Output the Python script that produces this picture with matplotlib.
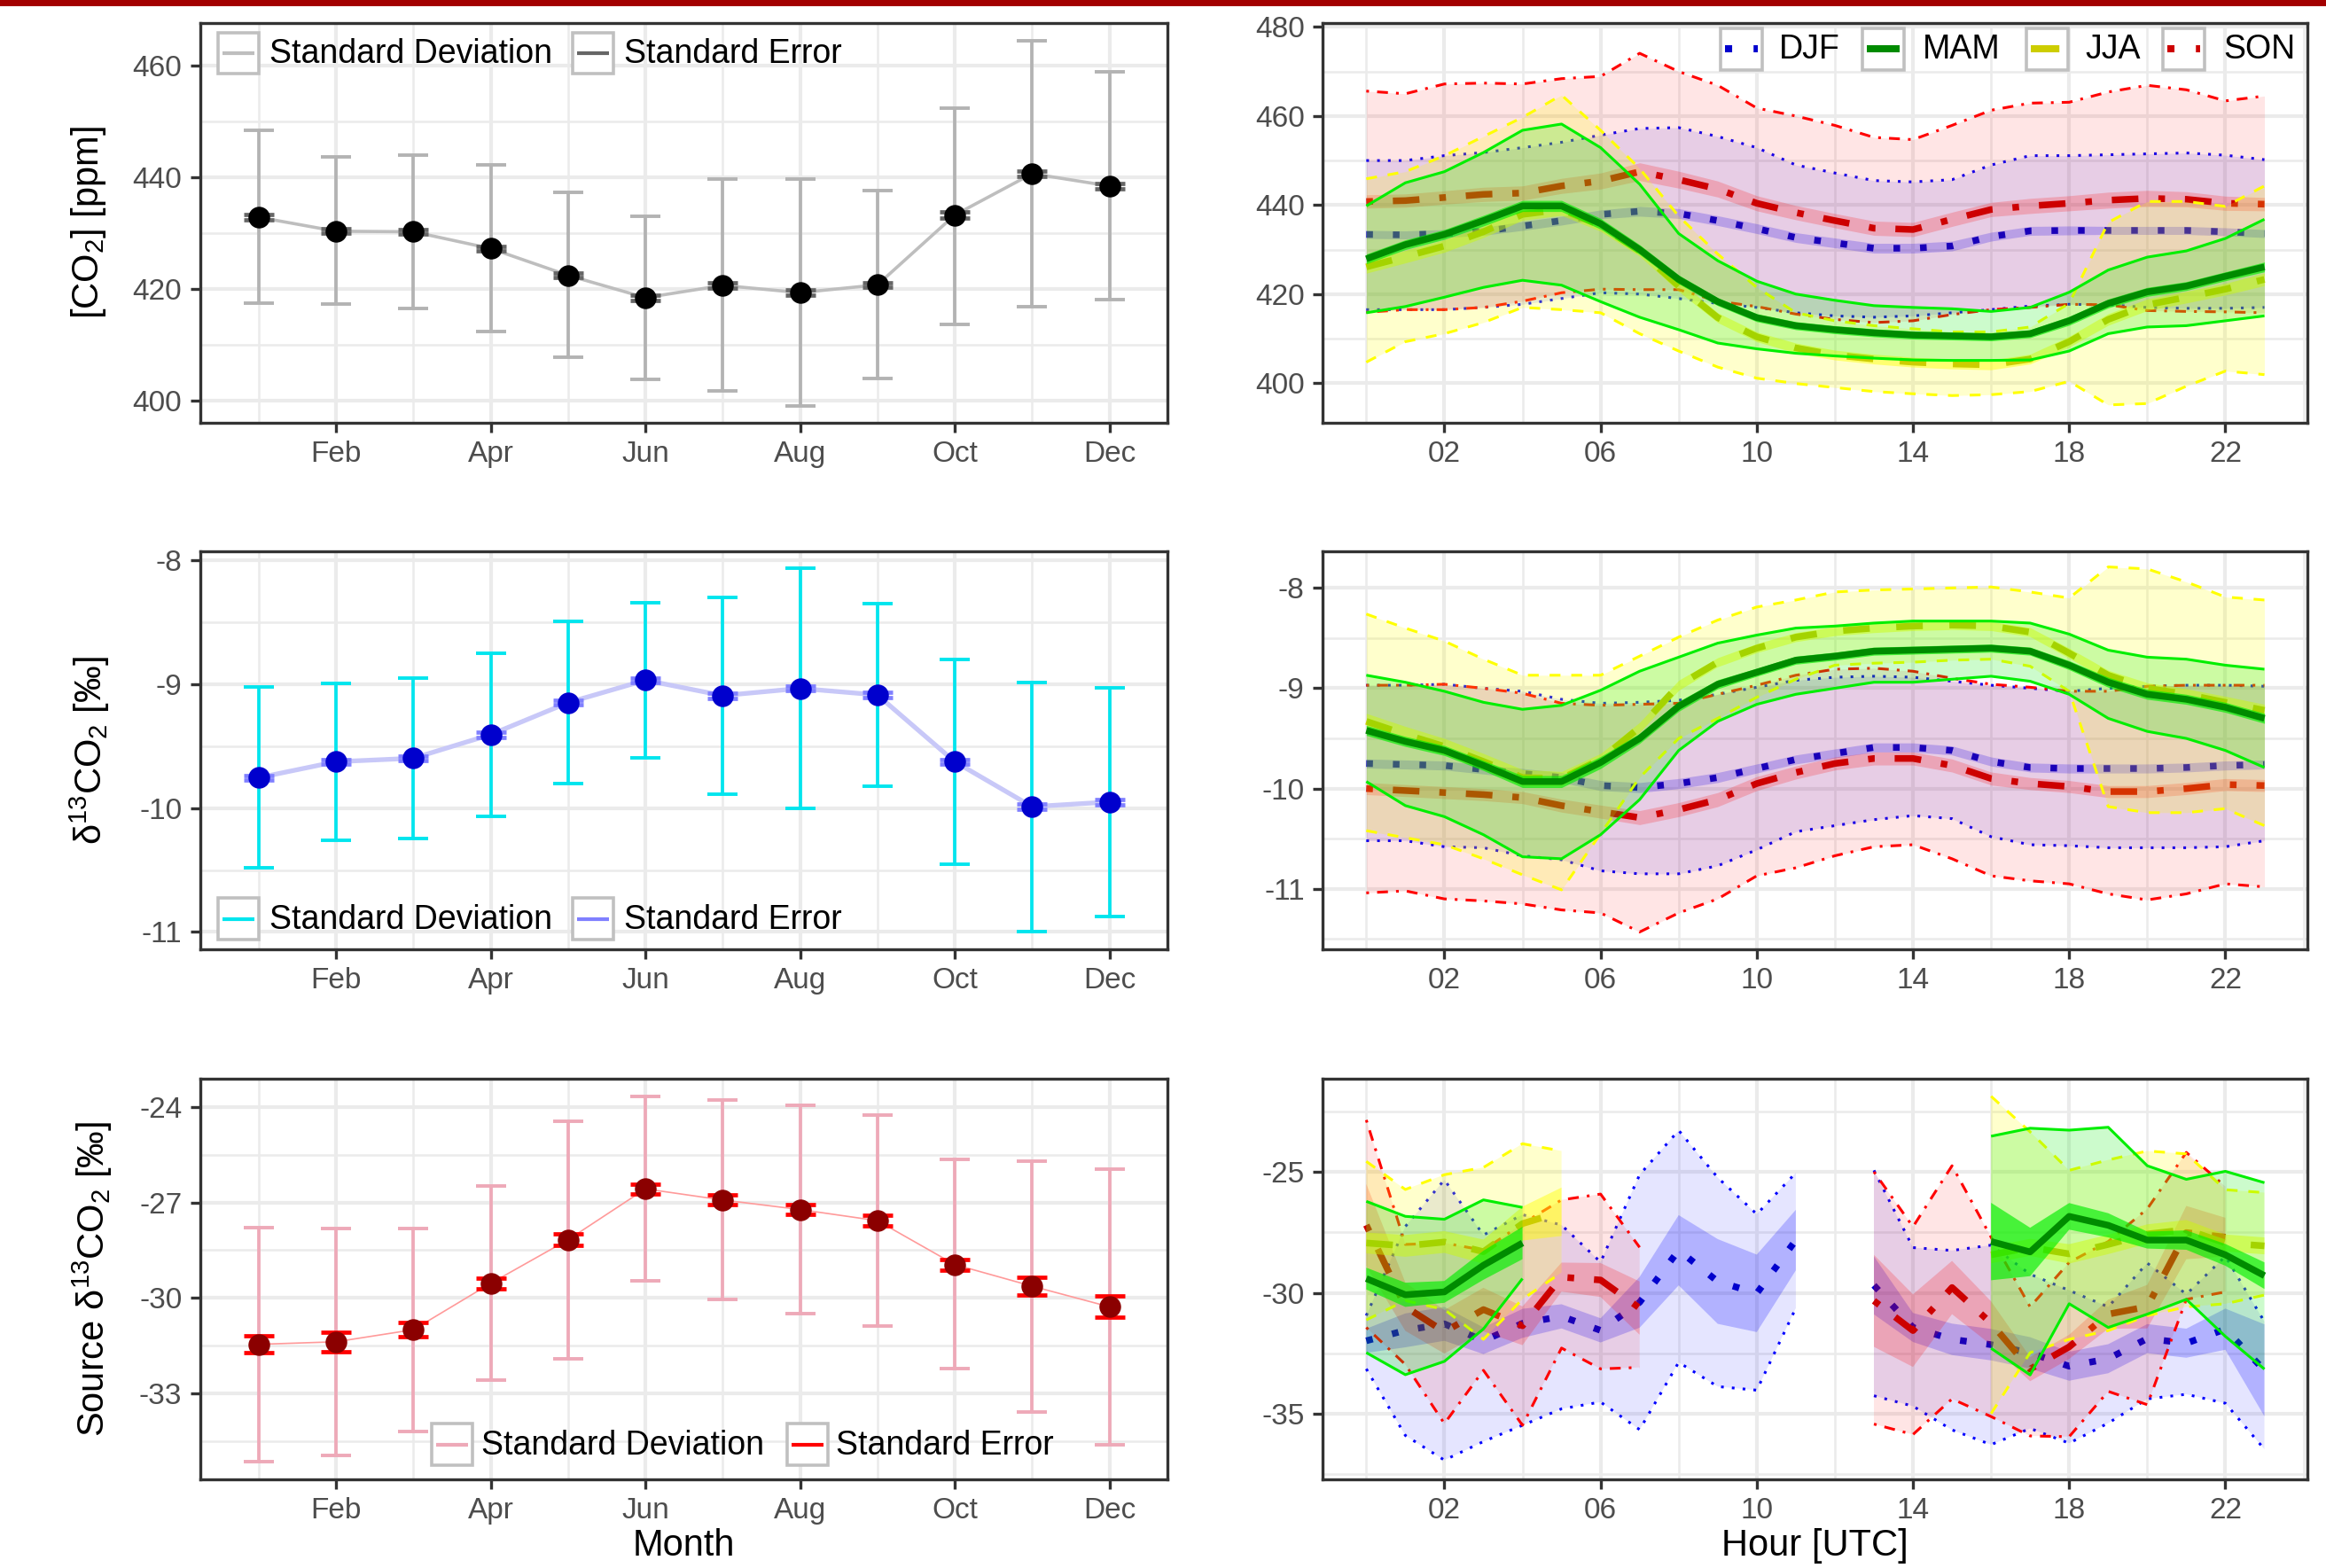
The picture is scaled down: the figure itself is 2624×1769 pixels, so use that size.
import numpy as np
import matplotlib
matplotlib.use("Agg")
import matplotlib.pyplot as plt
from matplotlib.patches import Rectangle
from matplotlib.lines import Line2D

plt.rcParams['font.family'] = ['Liberation Sans', 'DejaVu Sans']
plt.rcParams['mathtext.fontset'] = 'custom'
plt.rcParams['mathtext.rm'] = 'Liberation Sans'
plt.rcParams['mathtext.it'] = 'Liberation Sans:italic'
plt.rcParams['mathtext.bf'] = 'Liberation Sans:bold'
plt.rcParams['axes.unicode_minus'] = False

# ---------------- monthly data ----------------
months = [1, 2, 3, 4, 5, 6, 7, 8, 9, 10, 11, 12]
month_tick_pos = [2, 4, 6, 8, 10, 12]
month_tick_labels = ["Feb", "Apr", "Jun", "Aug", "Oct", "Dec"]

co2_month_mean = [432.9, 430.4, 430.3, 427.3, 422.5, 418.5, 420.7, 419.4, 420.8, 433.3, 440.7, 438.5]
co2_month_sd_hi = [448.4, 443.7, 444.0, 442.3, 437.3, 433.0, 439.8, 439.7, 437.6, 452.5, 464.5, 459.0]
co2_month_sd_lo = [417.5, 417.3, 416.6, 412.5, 407.8, 403.9, 401.8, 399.1, 404.0, 413.7, 416.9, 418.1]
co2_month_se = [0.45, 0.4, 0.4, 0.45, 0.45, 0.45, 0.45, 0.45, 0.45, 0.5, 0.5, 0.5]

d13_month_mean = [-9.754, -9.625, -9.597, -9.406, -9.148, -8.967, -9.091, -9.033, -9.086, -9.625, -9.988, -9.950]
d13_month_sd_hi = [-9.021, -8.990, -8.952, -8.747, -8.494, -8.341, -8.296, -8.064, -8.348, -8.797, -8.983, -9.029]
d13_month_sd_lo = [-10.484, -10.260, -10.246, -10.069, -9.804, -9.592, -9.890, -10.005, -9.821, -10.451, -11.0, -10.876]
d13_month_se = [0.02, 0.02, 0.02, 0.02, 0.02, 0.02, 0.02, 0.02, 0.02, 0.02, 0.02, 0.02]

src_month_mean = [-31.46, -31.38, -31.0, -29.54, -28.17, -26.57, -26.92, -27.22, -27.57, -28.95, -29.63, -30.28]
src_month_sd_hi = [-27.79, -27.82, -27.82, -26.49, -24.44, -23.66, -23.77, -23.93, -24.25, -25.65, -25.69, -25.96]
src_month_sd_lo = [-35.16, -34.95, -34.2, -32.58, -31.91, -29.46, -30.04, -30.48, -30.89, -32.23, -33.58, -34.62]
src_month_se = [0.27, 0.31, 0.22, 0.17, 0.18, 0.16, 0.15, 0.15, 0.17, 0.17, 0.28, 0.33]

# ---------------- diurnal data ----------------
hours = list(range(24))
hour_tick_pos = [2, 6, 10, 14, 18, 22]
hour_tick_labels = ["02", "06", "10", "14", "18", "22"]
seasons = ["DJF", "MAM", "JJA", "SON"]

# CO2 [ppm]
djf_co2_mean = [433.4, 433.3, 433.6, 434.1, 435.3, 436.5, 437.9, 438.6, 438.1, 436.5, 434.7, 432.7, 431.5, 430.3, 430.3, 430.8, 432.9, 434.2, 434.3, 434.3, 434.3, 434.3, 434.0, 433.6]
djf_co2_hi = [450.0, 450.0, 451.1, 451.8, 452.9, 454.1, 455.7, 457.2, 457.4, 455.4, 452.9, 449.0, 447.2, 445.5, 445.2, 445.7, 449.0, 451.1, 451.1, 451.3, 451.5, 451.7, 451.2, 450.2]
djf_co2_lo = [416.5, 416.5, 416.5, 417.0, 417.7, 419.0, 420.3, 420.0, 419.0, 417.9, 417.0, 415.8, 415.1, 414.8, 415.1, 415.8, 416.5, 417.3, 417.7, 417.6, 417.0, 416.8, 416.8, 417.0]
djf_co2_se = [0.9, 0.9, 0.9, 0.9, 1.0, 1.0, 1.0, 1.1, 1.1, 1.1, 1.1, 1.1, 1.1, 1.1, 1.1, 1.1, 1.0, 1.0, 1.0, 0.9, 0.9, 0.9, 0.9, 0.9]

son_co2_mean = [440.8, 441.0, 441.7, 442.4, 442.7, 444.3, 445.4, 447.5, 445.7, 443.6, 440.4, 438.3, 436.5, 434.8, 434.5, 436.8, 439.0, 439.8, 440.4, 441.1, 441.5, 441.3, 440.4, 440.2]
son_co2_hi = [465.6, 465.0, 467.2, 467.4, 467.2, 468.4, 468.9, 474.1, 470.0, 466.9, 461.8, 460.0, 457.9, 455.2, 454.7, 457.9, 461.3, 462.9, 463.1, 465.4, 466.9, 465.9, 463.4, 464.5]
son_co2_lo = [415.9, 416.5, 416.5, 417.0, 418.4, 420.3, 421.1, 421.0, 421.0, 418.4, 417.2, 415.5, 414.3, 413.6, 414.0, 415.4, 416.5, 417.0, 417.7, 417.6, 416.3, 416.1, 416.0, 415.8]
son_co2_se = [1.5, 1.5, 1.5, 1.6, 1.6, 1.7, 1.8, 2.0, 1.9, 1.8, 1.7, 1.6, 1.6, 1.6, 1.6, 1.6, 1.6, 1.7, 1.7, 1.8, 1.8, 1.7, 1.6, 1.5]

mam_co2_mean = [427.9, 431.1, 433.4, 436.5, 439.8, 439.8, 435.8, 430.0, 423.3, 418.3, 414.7, 412.9, 412.0, 411.3, 410.8, 410.6, 410.4, 411.1, 414.0, 417.9, 420.5, 421.8, 424.0, 426.1]
mam_co2_hi = [439.8, 445.0, 447.5, 451.8, 456.8, 458.2, 452.9, 444.7, 433.6, 427.5, 422.9, 420.0, 418.6, 417.4, 417.0, 416.7, 416.1, 417.0, 420.4, 425.4, 428.3, 429.7, 432.5, 436.8]
mam_co2_lo = [415.8, 417.2, 419.3, 421.5, 423.1, 422.0, 418.3, 414.8, 412.0, 409.0, 407.7, 406.7, 406.1, 405.6, 405.2, 405.1, 405.1, 405.2, 407.2, 411.1, 412.6, 412.9, 414.0, 415.1]
mam_co2_se = [1.1, 1.1, 1.1, 1.2, 1.25, 1.25, 1.2, 1.1, 1.0, 0.9, 0.9, 0.9, 0.9, 0.9, 0.9, 0.9, 0.9, 0.9, 1.0, 1.0, 1.0, 1.0, 1.0, 1.1]

jja_co2_mean = [426.1, 428.4, 430.8, 434.0, 437.9, 439.0, 435.4, 429.7, 421.8, 414.7, 410.4, 407.9, 406.3, 405.4, 404.7, 404.3, 404.1, 405.4, 409.3, 414.3, 417.6, 419.3, 421.1, 423.3]
jja_co2_hi = [445.9, 447.5, 451.1, 455.4, 459.7, 464.7, 456.8, 448.2, 437.5, 429.0, 421.5, 415.8, 414.0, 412.9, 412.2, 411.5, 411.5, 412.6, 417.9, 436.1, 440.8, 440.8, 439.7, 444.3]
jja_co2_lo = [404.7, 409.3, 411.1, 413.6, 417.0, 416.5, 415.8, 411.1, 407.2, 403.6, 401.1, 399.9, 399.0, 398.1, 397.6, 397.2, 397.4, 398.1, 400.4, 395.1, 395.4, 399.3, 402.7, 401.9]
jja_co2_se = [1.4, 1.4, 1.4, 1.3, 1.3, 1.3, 1.3, 1.2, 1.2, 1.1, 1.1, 1.1, 1.1, 1.1, 1.1, 1.1, 1.1, 1.1, 1.2, 1.3, 1.3, 1.3, 1.3, 1.4]

# d13C-CO2 [permil]
djf_d13_mean = [-9.75, -9.76, -9.77, -9.81, -9.85, -9.89, -9.97, -9.99, -9.95, -9.89, -9.80, -9.71, -9.65, -9.59, -9.59, -9.62, -9.73, -9.79, -9.80, -9.80, -9.80, -9.79, -9.77, -9.76]
djf_d13_hi = [-8.97, -8.97, -8.96, -9.00, -9.03, -9.11, -9.15, -9.14, -9.12, -9.06, -8.99, -8.92, -8.89, -8.88, -8.89, -8.93, -8.97, -9.00, -9.03, -9.00, -8.98, -8.97, -8.97, -8.98]
djf_d13_lo = [-10.52, -10.52, -10.58, -10.59, -10.67, -10.71, -10.82, -10.85, -10.85, -10.77, -10.61, -10.43, -10.37, -10.31, -10.27, -10.30, -10.48, -10.56, -10.57, -10.59, -10.59, -10.59, -10.58, -10.52]
djf_d13_se = [0.045, 0.045, 0.045, 0.045, 0.05, 0.05, 0.05, 0.05, 0.05, 0.05, 0.045, 0.045, 0.045, 0.045, 0.045, 0.045, 0.045, 0.045, 0.045, 0.045, 0.045, 0.045, 0.045, 0.045]

son_d13_mean = [-10.00, -10.02, -10.04, -10.06, -10.09, -10.17, -10.23, -10.29, -10.21, -10.11, -9.95, -9.84, -9.75, -9.70, -9.70, -9.77, -9.90, -9.95, -9.98, -10.03, -10.03, -10.00, -9.96, -9.97]
son_d13_hi = [-8.97, -8.97, -8.96, -9.00, -9.05, -9.15, -9.17, -9.16, -9.15, -9.06, -8.97, -8.87, -8.81, -8.80, -8.83, -8.90, -8.96, -8.99, -9.03, -9.03, -8.98, -8.97, -8.97, -8.97]
son_d13_lo = [-11.04, -11.02, -11.10, -11.12, -11.15, -11.21, -11.24, -11.43, -11.24, -11.10, -10.87, -10.79, -10.67, -10.58, -10.56, -10.70, -10.87, -10.92, -10.95, -11.05, -11.11, -11.05, -10.95, -10.98]
son_d13_se = [0.06, 0.06, 0.06, 0.06, 0.06, 0.065, 0.065, 0.07, 0.07, 0.07, 0.07, 0.065, 0.065, 0.065, 0.065, 0.065, 0.065, 0.06, 0.06, 0.06, 0.06, 0.06, 0.06, 0.06]

mam_d13_mean = [-9.42, -9.53, -9.62, -9.77, -9.93, -9.93, -9.74, -9.50, -9.18, -8.96, -8.84, -8.72, -8.68, -8.63, -8.62, -8.61, -8.60, -8.63, -8.77, -8.94, -9.06, -9.11, -9.19, -9.30]
mam_d13_hi = [-8.87, -8.94, -9.03, -9.14, -9.21, -9.17, -9.02, -8.83, -8.69, -8.55, -8.47, -8.40, -8.38, -8.35, -8.33, -8.33, -8.33, -8.35, -8.46, -8.62, -8.69, -8.71, -8.77, -8.81]
mam_d13_lo = [-9.93, -10.17, -10.28, -10.46, -10.68, -10.70, -10.46, -10.11, -9.62, -9.33, -9.16, -9.06, -9.00, -8.94, -8.94, -8.91, -8.88, -8.93, -9.06, -9.30, -9.43, -9.50, -9.62, -9.79]
mam_d13_se = [0.05, 0.05, 0.05, 0.05, 0.06, 0.06, 0.06, 0.05, 0.05, 0.045, 0.04, 0.04, 0.04, 0.04, 0.04, 0.04, 0.04, 0.04, 0.045, 0.05, 0.05, 0.05, 0.05, 0.05]

jja_d13_mean = [-9.33, -9.46, -9.58, -9.73, -9.89, -9.90, -9.71, -9.39, -8.97, -8.74, -8.60, -8.49, -8.43, -8.40, -8.38, -8.37, -8.38, -8.44, -8.65, -8.87, -9.00, -9.06, -9.14, -9.22]
jja_d13_hi = [-8.26, -8.40, -8.53, -8.71, -8.87, -8.87, -8.87, -8.68, -8.49, -8.32, -8.19, -8.12, -8.04, -8.02, -8.01, -8.00, -7.99, -8.04, -8.10, -7.79, -7.81, -7.94, -8.09, -8.12]
jja_d13_lo = [-10.42, -10.49, -10.56, -10.70, -10.86, -11.01, -10.45, -9.89, -9.50, -9.30, -9.09, -8.91, -8.77, -8.75, -8.74, -8.72, -8.71, -8.78, -9.03, -10.18, -10.24, -10.24, -10.20, -10.37]
jja_d13_se = [0.08, 0.08, 0.08, 0.08, 0.08, 0.07, 0.06, 0.05, 0.05, 0.045, 0.045, 0.045, 0.045, 0.045, 0.045, 0.045, 0.045, 0.045, 0.05, 0.05, 0.055, 0.055, 0.06, 0.06]

# Source d13C [permil] (nan = no data)
nan = np.nan
djf_src_mean = [-31.98, -31.55, -31.28, -31.98, -31.26, -30.97, -31.55, -30.39, -28.24, -29.53, -30.02, -27.82, nan, -29.69, -31.43, -31.92, -32.14, -32.48, -33.03, -32.72, -31.89, -32.08, -31.50, -33.20]
djf_src_hi = [-30.94, -27.26, -25.33, -27.61, -26.77, -27.20, -28.73, -25.12, -23.29, -25.24, -26.75, -25.04, nan, -24.94, -28.13, -28.25, -28.03, -29.23, -29.90, -30.58, -28.77, -30.06, -28.49, -31.19]
djf_src_lo = [-33.14, -35.89, -36.91, -36.14, -35.47, -34.79, -34.51, -35.65, -32.87, -33.87, -34.02, -30.63, nan, -34.25, -34.68, -35.66, -36.27, -35.60, -36.21, -35.38, -34.38, -34.19, -34.56, -36.46]
djf_src_se = [0.5, 0.7, 0.7, 0.55, 0.6, 0.5, 0.5, 1.05, 1.45, 1.75, 1.6, 1.25, nan, 1.2, 0.6, 0.65, 0.65, 0.65, 0.6, 0.6, 0.6, 0.6, 0.85, 1.9]

son_src_mean = [-27.20, -30.57, -31.61, -30.69, -31.36, -29.35, -29.47, -30.63, nan, nan, nan, nan, nan, -30.33, -31.56, -29.78, -31.25, -33.15, -32.23, -30.88, -30.57, -27.51, -27.70, nan]
son_src_hi = [-22.86, -28.00, -27.94, -28.24, -27.14, -26.16, -25.92, -28.12, nan, nan, nan, nan, nan, -25.00, -27.27, -24.75, -27.70, -30.58, -28.74, -27.88, -26.53, -24.20, -25.61, nan]
son_src_lo = [-31.43, -32.96, -35.40, -33.20, -35.47, -32.28, -33.14, -33.08, nan, nan, nan, nan, nan, -35.42, -35.85, -34.38, -35.11, -35.91, -35.94, -34.07, -34.62, -30.27, -29.96, nan]
son_src_se = [1.7, 1.0, 0.9, 0.9, 0.8, 0.6, 0.7, 1.1, nan, nan, nan, nan, nan, 1.9, 1.5, 1.1, 0.9, 0.5, 0.5, 0.6, 0.9, 1.1, 0.8, nan]

mam_src_mean = [-29.41, -30.08, -29.96, -28.86, -27.94, nan, nan, nan, nan, nan, nan, nan, nan, nan, nan, nan, -27.88, -28.31, -26.84, -27.21, -27.82, -27.82, -28.43, -29.29]
mam_src_hi = [-26.22, -26.84, -26.96, -26.16, -26.47, nan, nan, nan, nan, nan, nan, nan, nan, nan, nan, nan, -23.53, -23.20, -23.28, -23.16, -24.75, -25.31, -24.98, -25.45]
mam_src_lo = [-32.47, -33.38, -32.83, -31.49, -29.41, nan, nan, nan, nan, nan, nan, nan, nan, nan, nan, nan, -32.29, -33.39, -30.45, -31.43, -30.88, -30.27, -31.80, -33.15]
mam_src_se = [0.45, 0.5, 0.45, 0.6, 0.67, nan, nan, nan, nan, nan, nan, nan, nan, nan, nan, nan, 1.6, 1.0, 0.55, 0.5, 0.35, 0.4, 0.45, 0.55]

jja_src_mean = [-27.94, -28.06, -27.90, -28.30, -27.14, -26.65, nan, nan, nan, nan, nan, nan, nan, nan, nan, nan, -28.43, -28.12, -28.39, -28.00, -27.57, -27.39, -27.94, -28.06]
jja_src_hi = [-24.57, -25.73, -25.12, -24.82, -23.84, -24.14, nan, nan, nan, nan, nan, nan, nan, nan, nan, nan, -21.88, -23.35, -24.94, -24.51, -24.14, -24.26, -25.74, -25.86]
jja_src_lo = [-31.12, -30.32, -30.69, -31.92, -30.26, -29.16, nan, nan, nan, nan, nan, nan, nan, nan, nan, nan, -34.99, -32.47, -31.92, -31.56, -30.94, -30.58, -30.45, -30.09]
jja_src_se = [0.43, 0.45, 0.45, 0.5, 0.7, 1.0, nan, nan, nan, nan, nan, nan, nan, nan, nan, nan, 0.35, 0.35, 0.4, 0.4, 0.4, 0.4, 0.35, 0.35]

# ---------------- figure ----------------
W, H, DPI = 2624, 1769, 200
fig = plt.figure(figsize=(W / DPI, H / DPI), dpi=DPI)
fig.patch.set_facecolor('white')


def fx(x):
    return x / W


def fy(y):
    return 1 - y / H


def add_ax(l, t, r, b):
    return fig.add_axes([l / W, 1 - b / H, (r - l) / W, (b - t) / H])


def style(ax, xlim, ylim, xmaj, xlab, xmin, ymaj, ymin):
    ax.set_xlim(xlim)
    ax.set_ylim(ylim)
    ax.set_xticks(xmaj)
    ax.set_xticklabels(xlab)
    ax.set_xticks(xmin, minor=True)
    ax.set_yticks(ymaj)
    ax.set_yticklabels([("%g" % v) for v in ymaj])
    ax.set_yticks(ymin, minor=True)
    ax.grid(which='major', color='#ebebeb', lw=1.5)
    ax.grid(which='minor', color='#ebebeb', lw=0.9)
    ax.set_axisbelow(True)
    ax.tick_params(which='major', length=4, width=1.2, color='#333333',
                   labelcolor='#4d4d4d', labelsize=12, pad=3.3)
    ax.tick_params(which='minor', length=0)
    for s in ax.spines.values():
        s.set_color('#333333')
        s.set_linewidth(1.2)
        s.set_zorder(10)


LX0, LX1 = 225.6, 1317
RX0, RX1 = 1492, 2603
ROWS = [(25.8, 477), (621.7, 1070.7), (1217.4, 1668.9)]
mxlim = (0.24, 12.75)
hxlim = (-1.12, 24.1)
month_minor = [1, 3, 5, 7, 9, 11]
hour_minor = [0, 4, 8, 12, 16, 20, 24]


def monthly(ax, mean, hi, lo, se, line_col, line_w, sd_col, se_col, pt_col):
    mean = np.asarray(mean); hi = np.asarray(hi); lo = np.asarray(lo); se = np.asarray(se)
    ax.plot(months, mean, color=line_col, lw=line_w, zorder=2, solid_capstyle='butt')
    ax.errorbar(months, mean, yerr=[mean - lo, hi - mean], fmt='none', ecolor=sd_col,
                elinewidth=1.35, capsize=6.0, capthick=1.4, zorder=3)
    ax.errorbar(months, mean, yerr=se, fmt='none', ecolor=se_col,
                elinewidth=1.6, capsize=6.0, capthick=1.7, zorder=4)
    ax.plot(months, mean, 'o', color=pt_col, ms=7.8, mec=pt_col, zorder=5)


# Top-left
ax1 = add_ax(LX0, ROWS[0][0], LX1, ROWS[0][1])
style(ax1, mxlim, (396.1, 467.7), month_tick_pos, month_tick_labels, month_minor,
      [400, 420, 440, 460], [410, 430, 450])
monthly(ax1, co2_month_mean, co2_month_sd_hi, co2_month_sd_lo, co2_month_se,
        '#bebebe', 1.3, '#b3b3b3', '#666666', 'black')

# Middle-left
ax2 = add_ax(LX0, ROWS[1][0], LX1, ROWS[1][1])
style(ax2, mxlim, (-11.138, -7.924), month_tick_pos, month_tick_labels, month_minor,
      [-11, -10, -9, -8], [-10.5, -9.5, -8.5])
monthly(ax2, d13_month_mean, d13_month_sd_hi, d13_month_sd_lo, d13_month_se,
        '#c8c8f8', 1.9, '#00e5ee', '#8080ff', '#0000cd')

# Bottom-left
ax3 = add_ax(LX0, ROWS[2][0], LX1, ROWS[2][1])
style(ax3, mxlim, (-35.705, -23.116), month_tick_pos, month_tick_labels, month_minor,
      [-33, -30, -27, -24], [-34.5, -31.5, -28.5, -25.5])
monthly(ax3, src_month_mean, src_month_sd_hi, src_month_sd_lo, src_month_se,
        '#ff9a9a', 0.6, '#eea9b8', '#ff0000', '#8b0000')

# Diurnal panels
STY = {
    'DJF': dict(mean='#0000cd', sd='#0000ff', ls=(0, (1, 3)), fa=0.10, sa=0.22),
    'SON': dict(mean='#cd0000', sd='#ff0000', ls=(0, (1, 3, 4, 3)), fa=0.10, sa=0.20),
    'JJA': dict(mean='#cdcd00', sd='#ffff00', ls=(0, (4, 4)), fa=0.20, sa=0.45),
    'MAM': dict(mean='#008b00', sd='#00ee00', ls='-', fa=0.20, sa=0.65),
}


def season(ax, name, mean, hi, lo, se, z):
    s = STY[name]
    mean = np.asarray(mean, float); hi = np.asarray(hi, float)
    lo = np.asarray(lo, float); se = np.asarray(se, float)
    h = np.asarray(hours, float)
    ax.fill_between(h, lo, hi, color=s['sd'], alpha=s['fa'], lw=0, zorder=z)
    ax.fill_between(h, mean - se, mean + se, color=s['sd'], alpha=s['sa'], lw=0, zorder=z + 0.1)
    for arr in (hi, lo):
        ax.plot(h, arr, color=s['sd'], lw=1.1, ls=s['ls'], zorder=z + 0.2,
                solid_capstyle='butt', dash_capstyle='butt')
    ax.plot(h, mean, color=s['mean'], lw=2.7, ls=s['ls'], zorder=z + 0.3,
            solid_capstyle='butt', dash_capstyle='butt')


ax4 = add_ax(RX0, ROWS[0][0], RX1, ROWS[0][1])
style(ax4, hxlim, (391.08, 480.93), hour_tick_pos, hour_tick_labels, hour_minor,
      [400, 420, 440, 460, 480], [410, 430, 450, 470])
season(ax4, 'DJF', djf_co2_mean, djf_co2_hi, djf_co2_lo, djf_co2_se, 1)
season(ax4, 'SON', son_co2_mean, son_co2_hi, son_co2_lo, son_co2_se, 2)
season(ax4, 'JJA', jja_co2_mean, jja_co2_hi, jja_co2_lo, jja_co2_se, 3)
season(ax4, 'MAM', mam_co2_mean, mam_co2_hi, mam_co2_lo, mam_co2_se, 4)

ax5 = add_ax(RX0, ROWS[1][0], RX1, ROWS[1][1])
style(ax5, hxlim, (-11.60, -7.632), hour_tick_pos, hour_tick_labels, hour_minor,
      [-11, -10, -9, -8], [-11.5, -10.5, -9.5, -8.5])
season(ax5, 'DJF', djf_d13_mean, djf_d13_hi, djf_d13_lo, djf_d13_se, 1)
season(ax5, 'SON', son_d13_mean, son_d13_hi, son_d13_lo, son_d13_se, 2)
season(ax5, 'JJA', jja_d13_mean, jja_d13_hi, jja_d13_lo, jja_d13_se, 3)
season(ax5, 'MAM', mam_d13_mean, mam_d13_hi, mam_d13_lo, mam_d13_se, 4)

ax6 = add_ax(RX0, ROWS[2][0], RX1, ROWS[2][1])
style(ax6, hxlim, (-37.7, -21.17), hour_tick_pos, hour_tick_labels, hour_minor,
      [-35, -30, -25], [-37.5, -32.5, -27.5, -22.5])
season(ax6, 'DJF', djf_src_mean, djf_src_hi, djf_src_lo, djf_src_se, 1)
season(ax6, 'SON', son_src_mean, son_src_hi, son_src_lo, son_src_se, 2)
season(ax6, 'JJA', jja_src_mean, jja_src_hi, jja_src_lo, jja_src_se, 3)
season(ax6, 'MAM', mam_src_mean, mam_src_hi, mam_src_lo, mam_src_se, 4)

# ---------------- axis titles ----------------
fig.text(fx(100), fy(251.4), "[CO$_2$] [ppm]", rotation=90, ha='center', va='center', fontsize=15)
fig.text(fx(101), fy(846.2), "δ$^{13}$CO$_2$ [‰]", rotation=90, ha='center', va='center', fontsize=15)
fig.text(fx(104), fy(1443), "Source δ$^{13}$CO$_2$ [‰]", rotation=90, ha='center', va='center', fontsize=15)
fig.text(fx(771), fy(1744), "Month", ha='center', va='center', fontsize=15)
fig.text(fx(2047.5), fy(1744), "Hour [UTC]", ha='center', va='center', fontsize=15)


# ---------------- legends ----------------
def key(x0, y0, x1, y1, col, lw, ls='-'):
    fig.patches.append(Rectangle((fx(x0), fy(y1)), (x1 - x0) / W, (y1 - y0) / H,
                                 transform=fig.transFigure, facecolor='white',
                                 edgecolor='#c0c0c0', lw=1.3, zorder=20))
    yc = (y0 + y1) / 2
    fig.add_artist(Line2D([fx(x0 + 5), fx(x1 - 5)], [fy(yc), fy(yc)], transform=fig.transFigure,
                          color=col, lw=lw, ls=ls, zorder=21, solid_capstyle='butt',
                          dash_capstyle='butt'))


def ktext(x, yc, s):
    fig.text(fx(x), fy(yc), s, ha='left', va='center', fontsize=13.5, zorder=22)


def left_legend(y0, y1, xk1, xt1, xk2, xt2, c1, c2):
    key(xk1, y0, xk1 + 46, y1, c1, 1.5)
    ktext(xt1, (y0 + y1) / 2 + 1, "Standard Deviation")
    key(xk2, y0, xk2 + 46, y1, c2, 1.5)
    ktext(xt2, (y0 + y1) / 2 + 1, "Standard Error")


left_legend(36.7, 83.3, 245.5, 303.6, 646.4, 703.5, '#bebebe', '#666666')
left_legend(1013.3, 1060, 245.5, 303.6, 646.4, 703.5, '#00e5ee', '#8080ff')
left_legend(1606, 1653, 486.5, 543, 888, 943, '#eea9b8', '#ff0000')

season_keys = [('DJF', 1940.6, 2007), ('MAM', 2100.8, 2168.7), ('JJA', 2285.5, 2352.5), ('SON', 2440, 2508.5)]
for name, xk, xt in season_keys:
    key(xk, 32, xk + 47, 79, STY[name]['mean'], 2.9, STY[name]['ls'])
    ktext(xt, 56.5, name)

# top red band
fig.patches.append(Rectangle((0, fy(7.3)), 1, 7.3 / H, transform=fig.transFigure,
                             facecolor='#a30000', edgecolor='none', zorder=30))

fig.savefig("out.png", dpi=DPI)
